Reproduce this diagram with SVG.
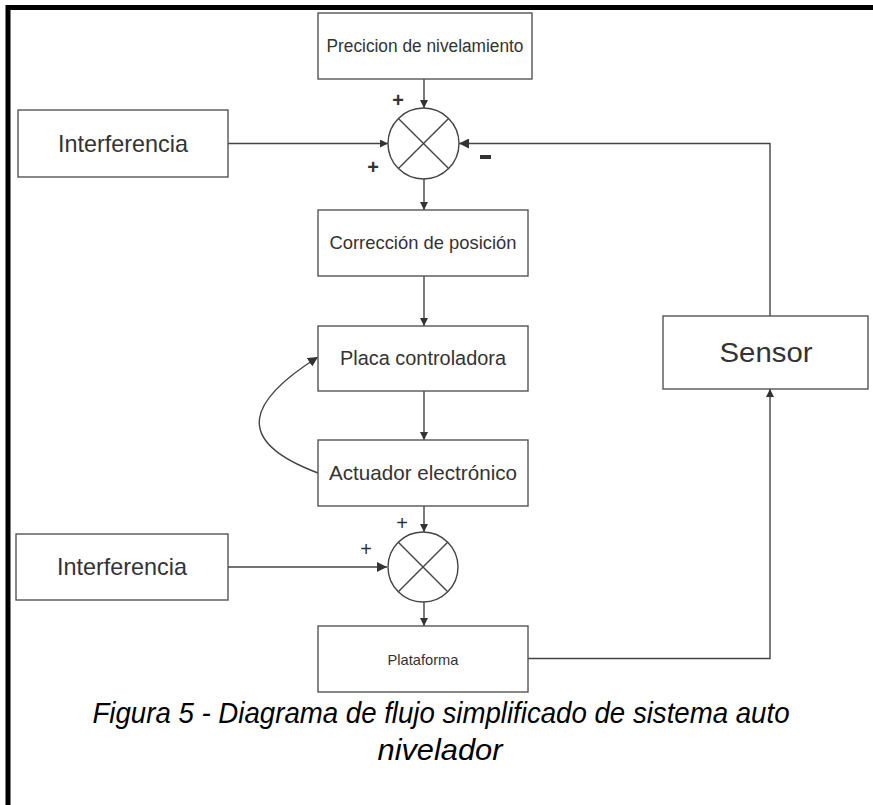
<svg xmlns="http://www.w3.org/2000/svg" width="873" height="805" viewBox="0 0 873 805">
  <defs>
    <marker id="arrow" viewBox="0 0 10 10" refX="10" refY="5" markerWidth="8" markerHeight="8" markerUnits="userSpaceOnUse" orient="auto">
      <path d="M0,0 L10,5 L0,10 z" fill="#333"/>
    </marker>
    <marker id="arrowBig" viewBox="0 0 10 10" refX="10" refY="5" markerWidth="10" markerHeight="10" markerUnits="userSpaceOnUse" orient="auto">
      <path d="M0,0 L10,5 L0,10 z" fill="#333"/>
    </marker>
  </defs>
  <style>
    .box { fill: #fff; stroke: #555; stroke-width: 1.4; }
    .sum { fill: #fff; stroke: #444; stroke-width: 1.4; }
    .cross { stroke: #444; stroke-width: 1.4; }
    .lbl { font-family: "Liberation Sans", Arial, sans-serif; fill: #333; text-anchor: middle; }
    .sign { font-family: "Liberation Sans", Arial, sans-serif; fill: #333; font-weight: bold; text-anchor: middle; }
    .wire { fill: none; stroke: #444; stroke-width: 1.4; }
    .caption { font-family: "Liberation Sans", Arial, sans-serif; font-style: italic; fill: #000; text-anchor: middle; font-size: 30px; }
  </style>

  <rect width="873" height="805" fill="#fff"/>
  <!-- page frame -->
  <polyline points="8,805 8,7.5 873,7.5" fill="none" stroke="#000" stroke-width="5"/>

  <g id="connectors">
    <line class="wire" x1="424" y1="79" x2="424" y2="108" marker-end="url(#arrow)"/>
    <line class="wire" x1="228" y1="143.5" x2="388" y2="143.5" marker-end="url(#arrow)"/>
    <polyline class="wire" points="770,316 770,143.5 459,143.5" marker-end="url(#arrowBig)"/>
    <line class="wire" x1="424" y1="179" x2="424" y2="210" marker-end="url(#arrow)"/>
    <line class="wire" x1="424" y1="276" x2="424" y2="326" marker-end="url(#arrow)"/>
    <line class="wire" x1="424" y1="391" x2="424" y2="440" marker-end="url(#arrow)"/>
    <path class="wire" d="M318,473 C230,440 250,400 318,357" stroke-width="1.8" marker-end="url(#arrowBig)"/>
    <line class="wire" x1="424" y1="506" x2="424" y2="532" marker-end="url(#arrow)"/>
    <line class="wire" x1="228" y1="567" x2="387" y2="567" stroke-width="2" marker-end="url(#arrowBig)"/>
    <line class="wire" x1="424" y1="602" x2="424" y2="626" marker-end="url(#arrow)"/>
    <polyline class="wire" points="528,658.5 770,658.5 770,389" marker-end="url(#arrow)"/>
  </g>

  <g id="precicion">
    <rect class="box" x="318" y="13" width="214" height="66"/>
    <text class="lbl" x="425" y="52" font-size="18" textLength="197" lengthAdjust="spacingAndGlyphs">Precicion de nivelamiento</text>
  </g>

  <g id="suma1">
    <circle class="sum" cx="423.5" cy="143.5" r="35.5"/>
    <line class="cross" x1="398.4" y1="118.4" x2="448.6" y2="168.6"/>
    <line class="cross" x1="448.6" y1="118.4" x2="398.4" y2="168.6"/>
    <text class="sign" x="398" y="107" font-size="20">+</text>
    <text class="sign" x="373" y="174" font-size="20">+</text>
    <rect x="480" y="155" width="11" height="4" fill="#333"/>
  </g>

  <g id="interferencia1">
    <rect class="box" x="18" y="110" width="210" height="67"/>
    <text class="lbl" x="123" y="152" font-size="24" textLength="130" lengthAdjust="spacingAndGlyphs">Interferencia</text>
  </g>

  <g id="correccion">
    <rect class="box" x="318" y="210" width="210" height="66"/>
    <text class="lbl" x="423" y="249" font-size="19" textLength="187" lengthAdjust="spacingAndGlyphs">Corrección de posición</text>
  </g>

  <g id="placa">
    <rect class="box" x="318" y="326" width="210" height="65"/>
    <text class="lbl" x="423" y="365" font-size="20.5" textLength="166" lengthAdjust="spacingAndGlyphs">Placa controladora</text>
  </g>

  <g id="actuador">
    <rect class="box" x="318" y="440" width="210" height="66"/>
    <text class="lbl" x="423" y="480" font-size="21" textLength="188" lengthAdjust="spacingAndGlyphs">Actuador electrónico</text>
  </g>

  <g id="suma2">
    <circle class="sum" cx="423" cy="567" r="35"/>
    <line class="cross" x1="398.3" y1="542.3" x2="447.7" y2="591.7"/>
    <line class="cross" x1="447.7" y1="542.3" x2="398.3" y2="591.7"/>
    <text class="lbl" x="402" y="530" font-size="20">+</text>
    <text class="lbl" x="366" y="556" font-size="20">+</text>
  </g>

  <g id="interferencia2">
    <rect class="box" x="16" y="534" width="212" height="66"/>
    <text class="lbl" x="122" y="575" font-size="24" textLength="130" lengthAdjust="spacingAndGlyphs">Interferencia</text>
  </g>

  <g id="plataforma">
    <rect class="box" x="318" y="626" width="210" height="66"/>
    <text class="lbl" x="423" y="665" font-size="15" textLength="71" lengthAdjust="spacingAndGlyphs">Plataforma</text>
  </g>

  <g id="sensor">
    <rect class="box" x="663" y="316" width="205" height="73"/>
    <text class="lbl" x="766" y="362" font-size="28" textLength="93" lengthAdjust="spacingAndGlyphs">Sensor</text>
  </g>

  <g id="caption">
    <text class="caption" x="441" y="723" textLength="697" lengthAdjust="spacingAndGlyphs">Figura 5 - Diagrama de flujo simplificado de sistema auto</text>
    <text class="caption" x="440" y="760" textLength="125" lengthAdjust="spacingAndGlyphs">nivelador</text>
  </g>
</svg>
